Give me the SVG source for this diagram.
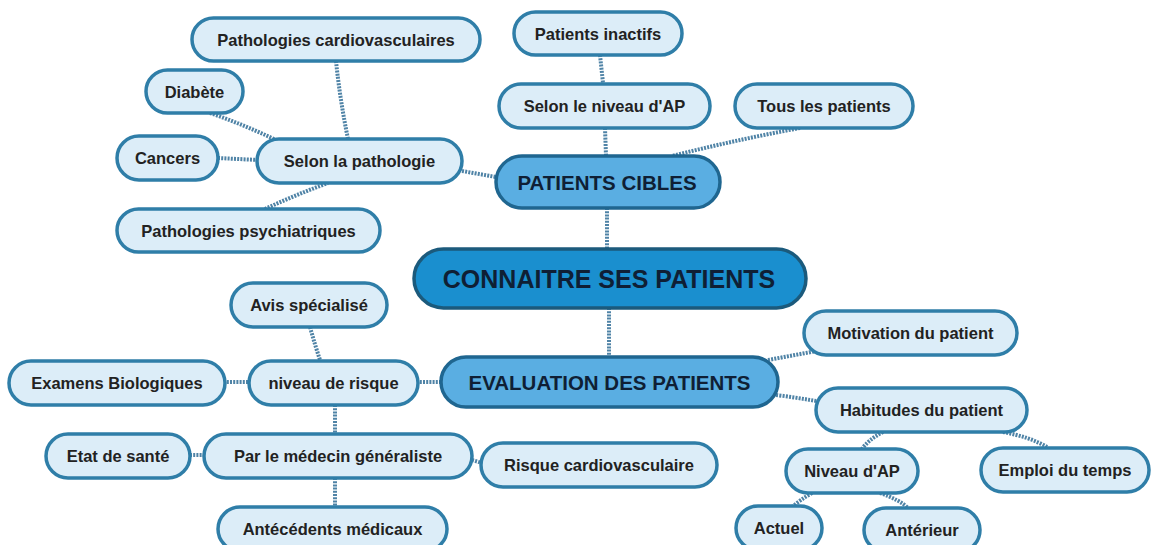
<svg xmlns="http://www.w3.org/2000/svg" width="1151" height="545" viewBox="0 0 1151 545">
<style>
.leaf rect{fill:#dcedf8;stroke:#2f7ea8;stroke-width:3.5}
.mid rect{fill:#5aaee2;stroke:#1f6690;stroke-width:3.5}
.main rect{fill:#1a8fcf;stroke:#1b5a7c;stroke-width:3.5}
text{font-family:"Liberation Sans",Arial,sans-serif;font-weight:bold;text-anchor:middle;fill:#222}
.leaf text{font-size:16.5px}
.mid text{font-size:20.5px;fill:#0f1f35}
.main text{font-size:25px;fill:#0f1f35}
#connectors path{fill:none;stroke:#4f83a6;stroke-width:4;stroke-dasharray:2 1.2}
</style>
<rect width="1151" height="545" fill="#ffffff"/>
<g id="connectors">
<path d="M336,61 Q340,100 348,139"/>
<path d="M210,113 Q245,125 278,141"/>
<path d="M218,158 L258,160"/>
<path d="M265,209 Q295,195 328,183"/>
<path d="M462,171 L496,177"/>
<path d="M600,55 L603,83"/>
<path d="M605,128 L606,156"/>
<path d="M800,128 Q735,140 672,156"/>
<path d="M607,208 L607,248"/>
<path d="M609,308 L609,357"/>
<path d="M768,360 Q795,355 822,350"/>
<path d="M776,395 Q800,398 822,402"/>
<path d="M883,432 Q868,440 862,449"/>
<path d="M1003,432 Q1030,437 1047,447"/>
<path d="M812,493 Q800,500 792,507"/>
<path d="M880,493 Q900,500 908,508"/>
<path d="M248,382 L225,382"/>
<path d="M441,382 L418,382"/>
<path d="M310,327 Q315,345 320,360"/>
<path d="M335,405 L335,434"/>
<path d="M190,455 L204,455"/>
<path d="M472,460 L482,463"/>
<path d="M335,478 L335,507"/>
</g>
<g id="n-card" class="leaf"><rect x="192" y="18" width="288" height="43" rx="21.5"/><text x="336" y="45.5">Pathologies cardiovasculaires</text></g>
<g id="n-diabete" class="leaf"><rect x="146" y="70" width="97" height="43" rx="21.5"/><text x="194.5" y="97.5">Diabète</text></g>
<g id="n-cancers" class="leaf"><rect x="117" y="136" width="101" height="44" rx="22"/><text x="167.5" y="163.5">Cancers</text></g>
<g id="n-selonpath" class="leaf"><rect x="257" y="139" width="205" height="44" rx="22"/><text x="359.5" y="166.5">Selon la pathologie</text></g>
<g id="n-psy" class="leaf"><rect x="117" y="209" width="263" height="43" rx="21.5"/><text x="248.5" y="236.5">Pathologies psychiatriques</text></g>
<g id="n-inactifs" class="leaf"><rect x="514" y="12" width="168" height="43" rx="21.5"/><text x="598" y="39.5">Patients inactifs</text></g>
<g id="n-selonap" class="leaf"><rect x="499" y="84" width="211" height="44" rx="22"/><text x="604.5" y="111.5">Selon le niveau d'AP</text></g>
<g id="n-tous" class="leaf"><rect x="735" y="84" width="178" height="44" rx="22"/><text x="824" y="111.5">Tous les patients</text></g>
<g id="n-cibles" class="mid"><rect x="496" y="156" width="224" height="52" rx="26"/><text x="607" y="189.5">PATIENTS CIBLES</text></g>
<g id="n-main" class="main"><rect x="414" y="249" width="392" height="59" rx="29.5"/><text x="609" y="287.5">CONNAITRE SES PATIENTS</text></g>
<g id="n-avis" class="leaf"><rect x="231" y="283" width="156" height="44" rx="22"/><text x="309" y="310.5">Avis spécialisé</text></g>
<g id="n-exam" class="leaf"><rect x="9" y="361" width="216" height="44" rx="22"/><text x="117" y="388.5">Examens Biologiques</text></g>
<g id="n-risque" class="leaf"><rect x="249" y="361" width="169" height="44" rx="22"/><text x="333.5" y="388.5">niveau de risque</text></g>
<g id="n-eval" class="mid"><rect x="441" y="357" width="337" height="50" rx="25"/><text x="609.5" y="389.5">EVALUATION DES PATIENTS</text></g>
<g id="n-etat" class="leaf"><rect x="46" y="434" width="144" height="44" rx="22"/><text x="118" y="461.5">Etat de santé</text></g>
<g id="n-medecin" class="leaf"><rect x="204" y="434" width="268" height="44" rx="22"/><text x="338" y="461.5">Par le médecin généraliste</text></g>
<g id="n-rcv" class="leaf"><rect x="481" y="443" width="236" height="44" rx="22"/><text x="599" y="470.5">Risque cardiovasculaire</text></g>
<g id="n-antec" class="leaf"><rect x="218" y="507" width="229" height="44" rx="22"/><text x="332.5" y="534.5">Antécédents médicaux</text></g>
<g id="n-motiv" class="leaf"><rect x="804" y="311" width="213" height="44" rx="22"/><text x="910.5" y="338.5">Motivation du patient</text></g>
<g id="n-habit" class="leaf"><rect x="816" y="388" width="211" height="44" rx="22"/><text x="921.5" y="415.5">Habitudes du patient</text></g>
<g id="n-niveauap" class="leaf"><rect x="786" y="449" width="132" height="44" rx="22"/><text x="852" y="476.5">Niveau d'AP</text></g>
<g id="n-emploi" class="leaf"><rect x="981" y="448" width="168" height="44" rx="22"/><text x="1065" y="475.5">Emploi du temps</text></g>
<g id="n-actuel" class="leaf"><rect x="736" y="506" width="86" height="44" rx="22"/><text x="779" y="533.5">Actuel</text></g>
<g id="n-anterieur" class="leaf"><rect x="864" y="508" width="116" height="44" rx="22"/><text x="922" y="535.5">Antérieur</text></g>
</svg>
